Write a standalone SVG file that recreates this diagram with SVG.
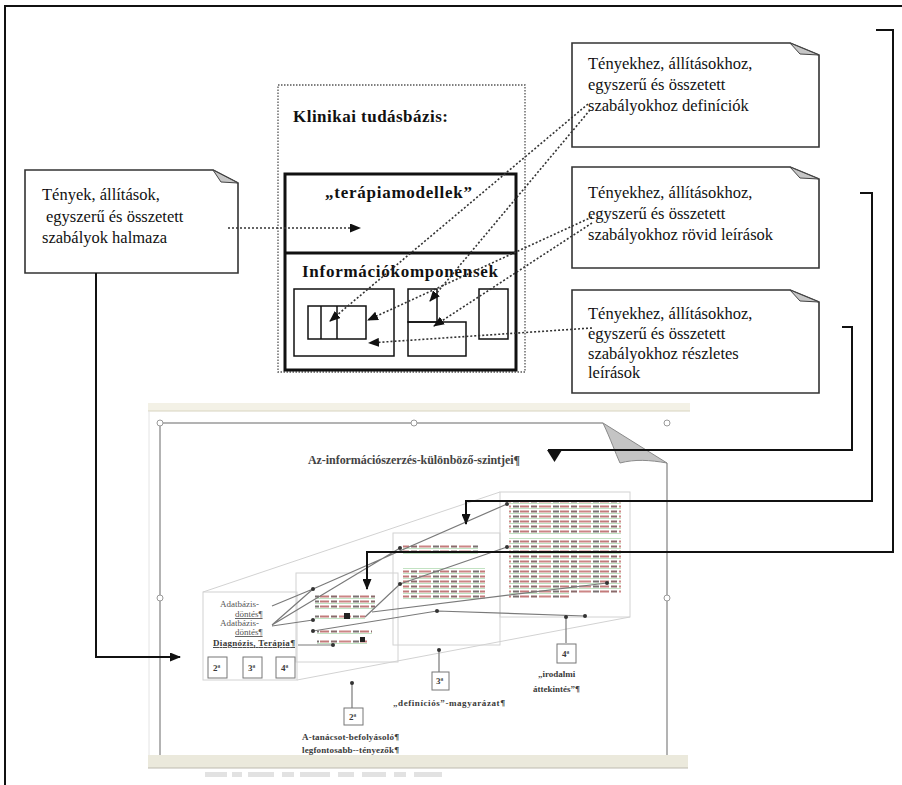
<svg xmlns="http://www.w3.org/2000/svg" width="902" height="785" viewBox="0 0 902 785">
<style>
.note{fill:#fff;stroke:#333;stroke-width:1.6}
.fold{fill:#c6c6c6;stroke:#444;stroke-width:1}
.nt{font-family:"Liberation Serif","Times New Roman",serif;font-size:16.5px;fill:#111}
.hd{font-family:"Liberation Serif","Times New Roman",serif;font-weight:bold;font-size:17px;fill:#111}
.dot{fill:none;stroke:#333;stroke-width:1.6;stroke-dasharray:2 2}
.wire{fill:none;stroke:#111;stroke-width:2}
.frm{fill:none;stroke:#111;stroke-width:1.5}
.thk{fill:none;stroke:#111;stroke-width:3}
.pane{fill:none;stroke:#d2d2d2;stroke-width:1}
.gl{fill:none;stroke:#7a7a7a;stroke-width:1.2}
.gd{fill:#333}
.st{font-family:"Liberation Serif","Times New Roman",serif;font-size:9px;fill:#555}
.sb{font-family:"Liberation Serif","Times New Roman",serif;font-size:9px;font-weight:bold;fill:#3a3a3a}
.bx{fill:#fff;stroke:#777;stroke-width:1}
.hdl{fill:#fff;stroke:#999;stroke-width:1}
</style>
<defs>
<marker id="ah" markerWidth="11" markerHeight="9" refX="10" refY="4.5" orient="auto" markerUnits="userSpaceOnUse">
<path d="M0,0 L11,4.5 L0,9 Z" fill="#111"/>
</marker>
<!-- dense word rows of the scanned page text -->
<pattern id="txt" width="40" height="5" patternUnits="userSpaceOnUse">
<rect x="0" y="0.5" width="9" height="2" fill="#c27a7a"/>
<rect x="11" y="0.5" width="6" height="2" fill="#8a6a6a"/>
<rect x="19" y="0.5" width="12" height="2" fill="#cc8686"/>
<rect x="33" y="0.5" width="6" height="2" fill="#7a7070"/>
<rect x="0" y="3" width="40" height="0.7" fill="#a8d6a8"/>
</pattern>
<filter id="soft" x="-5%" y="-5%" width="110%" height="110%">
<feGaussianBlur stdDeviation="0.45"/>
</filter>
</defs>

<!-- page frame -->
<path d="M5,785 V6 H902" fill="none" stroke="#111" stroke-width="2"/>

<!-- knowledge base block -->
<g id="kb">
<rect x="278" y="85" width="247" height="287" fill="none" stroke="#555" stroke-width="1.3" stroke-dasharray="1.5 1.5"/>
<text class="hd" x="293" y="122" textLength="155" lengthAdjust="spacing">Klinikai tudásbázis:</text>
<rect class="thk" x="285" y="174" width="231" height="196"/>
<line class="thk" x1="285" y1="253" x2="516" y2="253"/>
<text class="hd" x="325" y="198" textLength="147" lengthAdjust="spacing">„terápiamodellek”</text>
<text class="hd" x="302" y="277" textLength="196" lengthAdjust="spacing">Információkomponensek</text>
<rect class="frm" x="294" y="289" width="100" height="67"/>
<rect class="frm" x="308" y="306" width="58" height="33"/>
<line class="frm" x1="321" y1="306" x2="321" y2="339"/>
<line class="frm" x1="337" y1="306" x2="337" y2="339"/>
<rect class="frm" x="408" y="289" width="29" height="33"/>
<rect class="frm" x="408" y="322" width="58" height="34"/>
<rect class="frm" x="479" y="289" width="29" height="50"/>
</g>

<!-- callout notes -->
<g id="note-facts">
<path class="note" d="M25,170 H213 L238,183 V273 H25 Z"/>
<path class="fold" d="M213,170 L221,182 L238,183 Z"/>
<text class="nt" x="42" y="200">Tények, állítások,</text>
<text class="nt" x="46" y="222">egyszerű és összetett</text>
<text class="nt" x="42" y="243">szabályok halmaza</text>
</g>
<g id="note-def">
<path class="note" d="M572,43 H790 L819,55 V147 H572 Z"/>
<path class="fold" d="M790,43 L800,54 L819,55 Z"/>
<text class="nt" x="588" y="69">Tényekhez, állításokhoz,</text>
<text class="nt" x="588" y="90">egyszerű és összetett</text>
<text class="nt" x="588" y="111">szabályokhoz definíciók</text>
</g>
<g id="note-short">
<path class="note" d="M572,167 H790 L819,179 V268 H572 Z"/>
<path class="fold" d="M790,167 L800,178 L819,179 Z"/>
<text class="nt" x="588" y="198">Tényekhez, állításokhoz,</text>
<text class="nt" x="588" y="219">egyszerű és összetett</text>
<text class="nt" x="588" y="240">szabályokhoz rövid leírások</text>
</g>
<g id="note-detail">
<path class="note" d="M572,290 H790 L819,302 V393 H572 Z"/>
<path class="fold" d="M790,290 L800,301 L819,302 Z"/>
<text class="nt" x="588" y="319">Tényekhez, állításokhoz,</text>
<text class="nt" x="588" y="339">egyszerű és összetett</text>
<text class="nt" x="588" y="359">szabályokhoz részletes</text>
<text class="nt" x="588" y="378">leírások</text>
</g>

<!-- document page excerpt -->
<g id="doc">
<rect x="148" y="403" width="542" height="8" fill="#f3f1e6"/>
<line x1="148" y1="411" x2="690" y2="411" stroke="#d8d4c0" stroke-width="1"/>
<line x1="149" y1="411" x2="149" y2="768" stroke="#e4e4e4" stroke-width="1"/>
<path d="M160,755 V423 H603 M667,463 V755" fill="none" stroke="#9a9a9a" stroke-width="1.5"/>
<path d="M603,423 C611,440 615,452 620,463 C635,459 650,460 667,463 Z" fill="#c4c4c4" stroke="#8a8a8a" stroke-width="1"/>
<circle class="hdl" cx="160" cy="423" r="3"/>
<circle class="hdl" cx="414" cy="423" r="3"/>
<circle class="hdl" cx="667" cy="423" r="3"/>
<circle class="hdl" cx="160" cy="598" r="3"/>
<circle class="hdl" cx="667" cy="598" r="3"/>
<rect x="148" y="755" width="540" height="13" fill="#ebe9dc"/>
<line x1="148" y1="768" x2="688" y2="768" stroke="#bdbab0" stroke-width="1"/>
<g fill="#e2e2e2" filter="url(#soft)">
<rect x="205" y="772" width="22" height="5"/><rect x="232" y="772" width="10" height="5"/><rect x="248" y="772" width="26" height="5"/>
<rect x="282" y="772" width="12" height="5"/><rect x="300" y="772" width="30" height="5"/><rect x="338" y="772" width="16" height="5"/>
<rect x="362" y="772" width="24" height="5"/><rect x="394" y="772" width="12" height="5"/><rect x="414" y="772" width="28" height="5"/>
</g>
<text x="308" y="464" font-family="'Liberation Serif','Times New Roman',serif" font-size="12" font-weight="bold" fill="#444" textLength="212" lengthAdjust="spacing">Az-információszerzés-különböző-szintjei¶</text>

<!-- perspective panels -->
<path class="pane" d="M203,592 L500,492 M297,680 L630,617"/>
<rect class="pane" x="500" y="492" width="130" height="125"/>
<rect class="pane" x="393" y="533" width="107" height="112"/>
<rect class="pane" x="296" y="573" width="102" height="89"/>
<rect class="pane" x="203" y="592" width="94" height="88"/>

<g filter="url(#soft)">
<rect x="509" y="502" width="112" height="33" fill="url(#txt)"/>
<rect x="509" y="538" width="112" height="55" fill="url(#txt)"/>
<rect x="509" y="593" width="60" height="5" fill="url(#txt)"/>
<rect x="403" y="545" width="75" height="10" fill="url(#txt)"/>
<rect x="403" y="568" width="82" height="32" fill="url(#txt)"/>
<rect x="315" y="594" width="60" height="15" fill="url(#txt)"/>
<rect x="315" y="615" width="50" height="5" fill="url(#txt)"/>
<rect x="317" y="630" width="55" height="5" fill="url(#txt)"/>
<rect x="317" y="640" width="50" height="5" fill="url(#txt)"/>
<rect x="344" y="613" width="6" height="6" fill="#222"/>
<rect x="360" y="637" width="5" height="5" fill="#222"/>
</g>

<text class="st" x="220" y="607">Adatbázis-</text>
<text class="st" x="235" y="617" fill="#4a7a4a" text-decoration="underline">döntés¶</text>
<text class="st" x="220" y="626">Adatbázis-</text>
<text class="st" x="235" y="635" fill="#4a7a4a" text-decoration="underline">döntés¶</text>
<text class="sb" x="213" y="646" font-size="10" textLength="82" lengthAdjust="spacing" text-decoration="underline">Diagnózis, Terápia¶</text>
<rect class="bx" x="208" y="657" width="19" height="21"/>
<rect class="bx" x="243" y="657" width="19" height="21"/>
<rect class="bx" x="276" y="657" width="19" height="21"/>
<text class="sb" x="213" y="671">2ª</text>
<text class="sb" x="248" y="671">3ª</text>
<text class="sb" x="281" y="671">4ª</text>

<path class="gl" d="M272,606 L313,589 L507,504 M272,625 L313,589 M272,625 L400,548 M272,626 L313,620 M365,617 L400,584 L507,547 M298,645 L333,645 M313,631 L437,611 L585,616 M372,612 L607,583 M439,650 V672 M352,683 V708 M566,617 V643"/>
<g class="gd">
<circle cx="313" cy="589" r="2"/><circle cx="507" cy="504" r="2"/><circle cx="400" cy="548" r="2"/>
<circle cx="313" cy="620" r="2"/><circle cx="400" cy="584" r="2"/><circle cx="507" cy="547" r="2"/>
<circle cx="437" cy="611" r="2"/><circle cx="585" cy="616" r="2"/><circle cx="607" cy="583" r="2"/>
<circle cx="439" cy="650" r="2"/><circle cx="352" cy="683" r="2"/><circle cx="566" cy="617" r="2"/>
<circle cx="313" cy="631" r="2"/><circle cx="333" cy="645" r="2"/>
</g>

<rect class="bx" x="344" y="708" width="19" height="17"/>
<text class="sb" x="349" y="720">2ª</text>
<text class="sb" x="302" y="740" textLength="97" lengthAdjust="spacing">A-tanácsot-befolyásoló¶</text>
<text class="sb" x="302" y="753" textLength="97" lengthAdjust="spacing">legfontosabb--tényezők¶</text>
<rect class="bx" x="432" y="672" width="17" height="18"/>
<text class="sb" x="436" y="684">3ª</text>
<text class="sb" x="393" y="706" textLength="112" lengthAdjust="spacing">„definíciós”-magyarázat¶</text>
<rect class="bx" x="557" y="644" width="19" height="19"/>
<text class="sb" x="562" y="657">4ª</text>
<text class="sb" x="538" y="677">„irodalmi</text>
<text class="sb" x="533" y="692">áttekintés”¶</text>
</g>

<!-- connectors -->
<g id="connectors">
<path class="dot" d="M228,228 H360" marker-end="url(#ah)"/>
<path class="dot" d="M588,104 L330,321" marker-end="url(#ah)"/>
<path class="dot" d="M590,110 L430,301" marker-end="url(#ah)"/>
<path class="dot" d="M592,217 L368,320" marker-end="url(#ah)"/>
<path class="dot" d="M592,223 L434,326" marker-end="url(#ah)"/>
<path class="dot" d="M592,328 L369,343" marker-end="url(#ah)"/>
<path class="wire" d="M96,273 V657 H180" marker-end="url(#ah)"/>
<path class="wire" d="M876,30 H893 V552 H367 V589" marker-end="url(#ah)"/>
<path class="wire" d="M860,193 H872 V501 H466 V524" marker-end="url(#ah)"/>
<path class="wire" d="M842,327 H852 V450 H548"/>
<polygon points="547,450 562,450 554.5,462" fill="#111"/>
</g>
</svg>
